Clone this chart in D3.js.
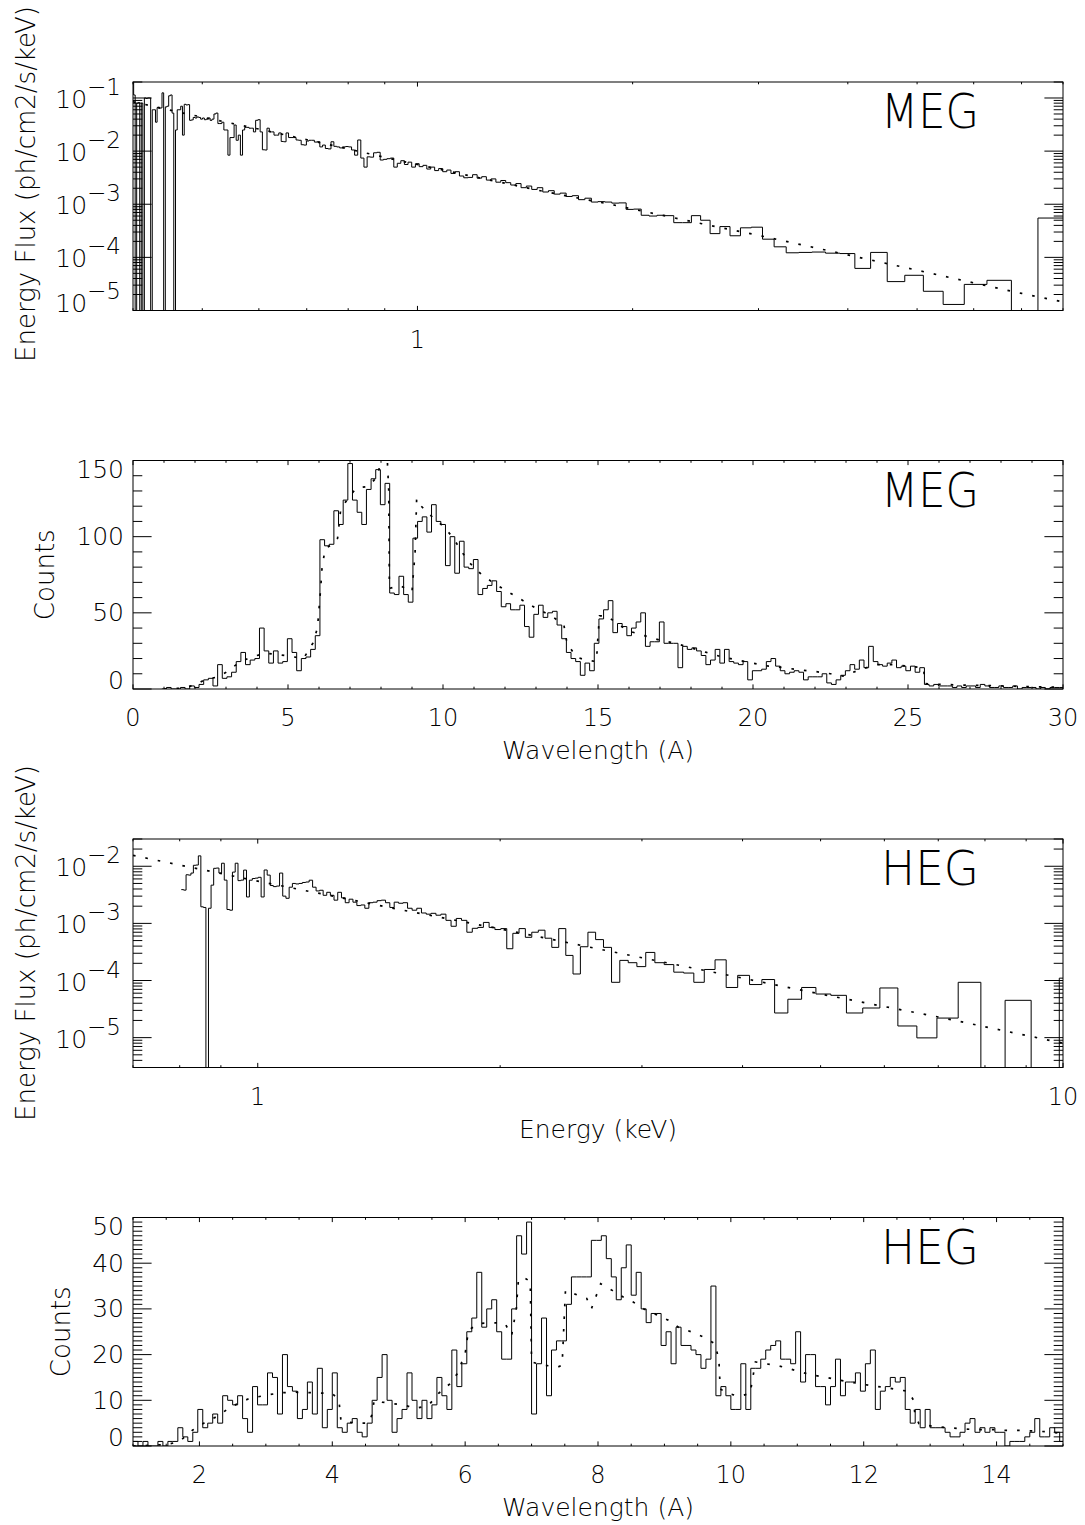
<!DOCTYPE html>
<html><head><meta charset="utf-8">
<script src="https://cdn.jsdelivr.net/npm/d3@7"></script>
<style>
body{margin:0;background:#fff}
svg text{font-family:'DejaVu Sans';font-weight:200;fill:#000}
</style>
</head><body>
<svg id="c" width="1085" height="1525"></svg>
<script>
// ---------------- DATA ----------------
const HC = 12.398; // keV*Angstrom (energy <-> wavelength for bin edges)

// Panel 1: MEG energy flux (1e-3 ph/cm2/s/keV), bins of constant wavelength width, ascending wavelength
const megFluxLam0 = 1.53, megFluxDLam = 0.15;
const megFlux = [
0.55,0,0.037,0.031,0.013,0.023,0.046,0.035,0.124,0.062,
0.118,0.12,0.126,0.124,0.122,0.158,0.22,0.37,0.36,0.255,
0.38,0.28,0.50,0.61,0.45,0.45,0.61,0.62,0.60,0.62,
0.81,0.80,1.06,1.05,1.10,
1.12,1.10,1.30,1.22,1.45,1.40,1.62,1.55,1.80,1.70,
2.05,1.90,2.20,2.05,2.45,2.30,2.55,2.80,2.60,3.00,
2.85,3.30,3.10,3.60,3.20,3.15,3.40,4.10,3.80,4.40,
4.10,4.70,4.30,5.00,4.60,5.40,5.10,5.80,5.00,6.20,
5.60,6.60,5.90,
5.0,7.4,7.2,7.0,6.8,9.5,9.3,7.7,7.8,5.0,
7.4,16.2,8.4,10.5,12.0,12.2,12.0,11.5,12.0,12.3,
15.0,11.0,11.2,13.0,12.0,15.0,14.8,16.0,16.0,15.5,
13.0,13.2,16.0,16.2,18.0,18.0,18.0,22.0,15.0,15.2,
22.0,20.0,20.0,23.0,23.0,27.0,10.5,10.6,23.0,39.0,
38.0,23.0,27.0,27.0,28.0,28.0,25.0,8.4,20.0,16.0,
31.0,18.0,18.0,8.4,25.0,25.0,35.0,33.0,33.0,52.0,
50.0,40.0,38.0,42.0,40.0,39.0,42.0,40.0,43.0,44.0,
42.0,43.0,38.7,38.0,75.0,74.0,76.0,20.0,70.0,60.0,
60.0,25.0,0,52.0,114.0,110.0,70.0,68.0,0,125.0,
65.0,64.0,66.0,35.0,60.0,60.0,0,100.0,100.0,98.0,
100.0,0,80.0,0,82.0,80.0,0,114.0,200.0];
// model [energy keV, flux ph/cm2/s/keV]
const megFluxModel = [[0.4,8.5e-2],[0.47,5.2e-2],[0.6,2.6e-2],[0.8,1.1e-2],[0.93,6.9e-3],[1.2,3.3e-3],[1.5,1.75e-3],[1.86,1.0e-3],[2.5,4.3e-4],[3.0,2.6e-4],[3.5,1.65e-4],[4.25,9.3e-5],[5.2,5.1e-5],[6.2,3.0e-5],[7.0,2.1e-5],[8.0,1.45e-5]];

// Panel 2: MEG counts per wavelength bin
const megCntLam0 = 0.93, megCntDLam = 0.15;
const megCounts = [
0,1,0,0,1,0,2,1,3,6,
7,2,16,7,8,11,18,24,16,19,
20,40,25,17,25,17,18,33,24,12,
20,21,26,35,98,94,95,117,108,124,
148,124,116,108,131,138,144,121,135,63,
62,74,62,57,99,110,113,103,121,110,
108,81,100,76,97,80,79,85,62,66,
68,71,64,54,56,52,52,55,41,34,
49,55,47,50,51,42,33,24,20,18,
9,17,12,30,46,52,58,37,43,41,
35,40,44,50,28,31,31,44,30,30,
30,14,28,26,27,25,22,16,19,26,
17,26,18,17,16,18,6,12,12,13,
18,20,15,12,10,11,12,11,6,8,
8,8,10,4,3,6,9,12,16,13,
19,14,28,18,16,15,17,19,14,15,
12,15,11,14,3,2,3,2,2,2,
1,2,1,2,2,1,3,2,1,1,
2,1,1,2,0,1,1,1,0,1,
0,1,1,1];
// model [wavelength A, counts]
const megCntModel = [[1.0,0],[1.5,0.5],[2.0,2.5],[2.3,6],[2.75,8],[3.0,11],[3.4,17],[3.8,21],[4.3,23.5],[4.9,22],[5.2,21],[5.5,20],[5.8,30],[5.95,40],[6.05,65],[6.1,80],[6.2,92],[6.5,96],[6.6,99],[6.7,118],[6.9,124],[7.2,132],[7.6,133],[7.9,140],[8.0,152],[8.2,152],[8.25,130],[8.27,66],[8.6,68],[9.0,64],[9.1,90],[9.15,125],[9.3,120],[9.6,114],[10.0,107],[10.3,100],[10.8,84],[11.2,76],[11.6,70],[12.0,65],[12.5,59],[13.0,53],[13.5,48],[13.9,42],[14.0,30],[14.3,21],[14.6,19],[14.95,18],[15.0,35],[15.05,48],[15.3,48],[15.6,43],[16.0,38],[16.5,35],[17.0,32],[17.5,30],[18.0,27],[18.5,24],[19.0,21],[19.5,19],[20.0,17],[20.5,15],[21.0,14],[21.5,12.5],[22.0,11.5],[22.5,10],[22.9,8.5],[23.1,10],[23.5,13],[24.0,16],[24.5,16],[25.0,15],[25.5,14],[25.55,3.5],[26,3],[27,2.5],[28,2],[29,1.5],[30,1.2]];

// Panel 3: HEG energy flux (1e-3 ph/cm2/s/keV), ascending wavelength bins
const hegFluxLam0 = 1.148, hegFluxDLam = 0.105;
const hegFlux = [
0.11,0,0.045,0,0.093,0.022,0.0099,0.016,0.074,0.033,
0.027,0.055,0.058,0.0755,0.047,0.027,0.104,0.085,0.123,0.0755,
0.23,0.156,0.093,0.135,0.14,0.19,0.205,0.31,0.175,0.205,
0.225,0.093,0.38,0.52,0.70,0.39,0.13,0.275,0.81,0.38,
0.55,0.76,0.70,0.57,0.81,0.67,0.36,0.81,0.78,0.85,
1.04,0.85,0.82,0.70,1.13,1.22,0.89,1.13,1.45,1.39,
1.5,1.45,1.52,1.84,1.7,1.84,2.3,2.25,2.35,1.9,
2.3,2.55,2.5,2.35,2.3,1.84,2.1,2.05,2.35,2.65,
2.3,2.8,3.5,2.55,3.1,3.5,3.1,3.8,3.7,4.3,
5.7,5.3,5.2,5.0,4.9,5.0,4.3,2.75,3.0,7.6,
4.5,4.4,4.6,7.0,8.6,2.9,6.4,6.2,6.1,5.7,
2.9,8.57,5.72,5.6,11.3,7.9,1.7,1.75,5.72,11.3,
7.6,9.3,9.2,4.67,1.84,0,1.9,1.95,15.2,10.5,
10.4,7.6,7.0,7.1,3.82,3.9];
const hegFluxModel = [[0.7,1.55e-2],[0.8,1.05e-2],[1.0,5.5e-3],[1.5,1.75e-3],[2.0,8.0e-4],[3.0,2.5e-4],[4.0,1.1e-4],[5.0,5.8e-5],[6.0,3.5e-5],[7.0,2.3e-5],[8.0,1.55e-5],[10.0,8.0e-6]];

// Panel 4: HEG counts per wavelength bin
const hegCntLam0 = 1.0, hegCntDLam = 0.075;
const hegCounts = [
1,0,1,0,0,1,0,1,1,4,
2,1,3,8,4,5,7,5,11,10,
9,11,6,3,13,9,9,16,15,7,
20,13,12,6,8,14,7,17,4,8,
16,4,3,5,6,3,2,5,10,15,
20,10,3,6,8,16,10,6,10,6,
9,15,11,8,21,13,18,25,28,38,
26,30,32,25,19,19,30,46,42,49,
7,18,28,11,21,
23,23,31,37,37,37,37,45,45,46,
41,37,32,39,44,33,38,30,27,29,
29,22,25,18,26,22,22,21,20,17,
19,35,11,13,11,8,8,18,8,17,
17,19,21,22,23,19,19,18,25,14,
20,20,13,13,9,13,19,11,14,14,
16,12,18,21,8,12,13,15,14,15,
8,5,8,4,8,4,4,4,3,2,
2,3,5,6,3,4,3,4,3,3,
0,1,1,1,2,3,6,2,2,4,
3,1];
const hegCntModel = [[1.0,0],[1.5,0.3],[1.7,1],[1.9,3.5],[2.1,5.3],[2.3,6.7],[2.45,8.4],[2.75,10.4],[3.0,11.1],[3.2,11.6],[3.4,11.8],[3.6,11.7],[3.8,11.6],[4.0,11.5],[4.1,10],[4.13,5.6],[4.2,5.3],[4.4,5],[4.55,5],[4.6,7],[4.63,10],[4.75,9.6],[4.9,9.3],[5.1,8.9],[5.25,8.2],[5.45,8.9],[5.6,11.5],[5.77,13.6],[5.88,15.8],[6.0,20.2],[6.05,25.3],[6.2,26.8],[6.4,27],[6.6,26.8],[6.7,24.2],[6.77,30],[6.8,36],[6.87,37],[6.98,36],[7.0,18.4],[7.17,17.7],[7.4,17.3],[7.46,17.7],[7.49,27.5],[7.51,34],[7.7,33],[7.83,32.3],[7.9,30],[8.04,35.5],[8.22,34],[8.38,32.6],[8.53,31.5],[8.69,30],[8.9,28.6],[9.06,27.5],[9.21,26],[9.4,25],[9.58,23.9],[9.76,22.4],[9.82,18.8],[9.84,12.5],[9.95,11.5],[10.13,10.9],[10.29,11.5],[10.34,15.8],[10.37,18.4],[10.52,18],[10.68,17.7],[10.86,17],[11.05,16.2],[11.23,15.5],[11.41,15.1],[11.6,14.5],[11.8,14],[11.99,13.5],[12.15,13.1],[12.33,12.8],[12.51,12.3],[12.67,12],[12.75,10],[12.77,7],[12.83,4.9],[13.04,4.3],[13.25,4],[13.46,3.8],[13.66,3.6],[13.93,3.6],[14.14,3.4],[14.35,3.4],[14.55,3.3],[14.76,3.1],[15.0,2.7]];

// Axis domains and tick labels
const p1XDomain = [0.4, 8], p1YDomain = [1e-5, 0.2];
const p1XLabels = [1], p1YExp = [-1,-2,-3,-4,-5];
const p2XDomain = [0, 30], p2YDomain = [0, 150];
const p2XLabels = [0,5,10,15,20,25,30], p2YLabels = [0,50,100,150];
const p3XDomain = [0.7, 10], p3YDomain = [3e-6, 3e-2];
const p3XLabels = [1,10], p3YExp = [-2,-3,-4,-5];
const p4XDomain = [1, 15], p4YDomain = [0, 50];
const p4XLabels = [2,4,6,8,10,12,14], p4YLabels = [0,10,20,30,40,50];
const panelNames = ["MEG","MEG","HEG","HEG"];
const yTitles = ["Energy Flux (ph/cm2/s/keV)","Counts","Energy Flux (ph/cm2/s/keV)","Counts"];
const xTitles = [null,"Wavelength (A)","Energy (keV)","Wavelength (A)"];

// ---------------- DRAWING ----------------
const svg = d3.select('#c');
const L = 133, R = 1063, PH = 228.5;
const tops = [82, 460.5, 839, 1217.5];
const MAJ_Y = 18.6, MIN_Y = 9.3, MAJ_X = 4.6, MIN_X = 2.3;
const defs = svg.append('defs');

function lamEdges(l0, dl, n){ return d3.range(n+1).map(i => l0 + dl*i); }

function logTicks(lo, hi){
  const maj=[], min=[];
  for (let d=Math.floor(Math.log10(lo))-1; d<=Math.ceil(Math.log10(hi)); d++){
    for (let m=1; m<10; m++){
      const v = m*Math.pow(10,d);
      if (v < lo*0.9999 || v > hi*1.0001) continue;
      (m===1?maj:min).push(v);
    }
  }
  return {maj, min};
}

function panel(i){
  const top = tops[i], bot = top+PH;
  const g = svg.append('g');
  defs.append('clipPath').attr('id','clip'+i).append('rect')
    .attr('x',L).attr('y',top).attr('width',R-L).attr('height',PH);
  const plot = g.append('g').attr('clip-path',`url(#clip${i})`);
  return {g, plot, top, bot};
}

function hist(plot, x, y, pts, floor){
  const line = d3.line().x(d=>x(d[0])).y(d=>y(d[1] > 0 ? d[1] : floor)).curve(d3.curveStepAfter);
  plot.append('path').attr('d', line(pts)).attr('fill','none')
    .attr('stroke','#000').attr('stroke-width',1);
}
function model(plot, x, y, pts){
  const line = d3.line().x(d=>x(d[0])).y(d=>y(d[1]));
  plot.append('path').attr('d', line(pts)).attr('fill','none')
    .attr('stroke','#000').attr('stroke-width',1.7).attr('stroke-dasharray','2.6,10');
}
function frame(P){
  P.g.append('rect').attr('x',L).attr('y',P.top).attr('width',R-L).attr('height',PH)
    .attr('fill','none').attr('stroke','#000').attr('stroke-width',1);
}
function yTicks(P, y, vals, len){
  vals.forEach(v=>{
    const yy = y(v);
    P.g.append('line').attr('x1',L).attr('x2',L+len).attr('y1',yy).attr('y2',yy).attr('stroke','#000');
    P.g.append('line').attr('x1',R).attr('x2',R-len).attr('y1',yy).attr('y2',yy).attr('stroke','#000');
  });
}
function xTicks(P, x, vals, len){
  vals.forEach(v=>{
    const xx = x(v);
    P.g.append('line').attr('x1',xx).attr('x2',xx).attr('y1',P.bot).attr('y2',P.bot-len).attr('stroke','#000');
    P.g.append('line').attr('x1',xx).attr('x2',xx).attr('y1',P.top).attr('y2',P.top+len).attr('stroke','#000');
  });
}
function xLabels(P, x, vals){
  vals.forEach(v=>{
    P.g.append('text').attr('x',x(v)).attr('y',P.bot+37).attr('text-anchor','middle')
      .attr('font-size',24).text(v);
  });
}
function yLinLabels(P, y, vals){
  vals.forEach(v=>{
    const c = Math.max(P.top+8.5, Math.min(P.bot-8.5, y(v)));
    P.g.append('text').attr('x',L-9).attr('y',c+8.5).attr('text-anchor','end')
      .attr('font-size',25).text(v);
  });
}
function yExpLabels(P, y, exps){
  exps.forEach(e=>{
    const b = Math.min(P.bot+1, y(Math.pow(10,e))+10);
    const t = P.g.append('text').attr('x',L-12).attr('y',b).attr('text-anchor','end').attr('font-size',25);
    t.append('tspan').text('10');
    t.append('tspan').attr('dy',-13).attr('font-size',23).text('\u2212'+Math.abs(e));
  });
}
function titles(P, i, yx){
  P.g.append('text').attr('transform',`translate(${yx},${i===0?184:(i===2?943:(P.top+P.bot)/2)}) rotate(-90)`)
    .attr('text-anchor','middle').attr('font-size', 26).text(yTitles[i]);
  if (xTitles[i]) P.g.append('text').attr('x',(L+R)/2).attr('y',P.bot+70).attr('text-anchor','middle')
    .attr('font-size',25).text(xTitles[i]);
  P.g.append('text').attr('x',881).attr('y',P.top+46).attr('font-size',48)
    .attr('textLength',98).attr('lengthAdjust','spacingAndGlyphs').text(panelNames[i]);
}

// ---- Panel 1: MEG flux vs energy (log-log)
{
  const P = panel(0);
  const x = d3.scaleLog().domain(p1XDomain).range([L,R]);
  const y = d3.scaleLog().domain(p1YDomain).range([P.bot,P.top]);
  const ed = lamEdges(megFluxLam0, megFluxDLam, megFlux.length);
  const pts = megFlux.map((v,i)=>[HC/ed[i], v*1e-3]);
  pts.push([HC/ed[megFlux.length], megFlux[megFlux.length-1]*1e-3]);
  hist(P.plot, x, y, pts, 1e-9);
  model(P.plot, x, y, megFluxModel);
  frame(P);
  const yt = logTicks(p1YDomain[0], p1YDomain[1]);
  yTicks(P, y, yt.maj, MAJ_Y); yTicks(P, y, yt.min, MIN_Y);
  const xt = logTicks(p1XDomain[0], p1XDomain[1]);
  xTicks(P, x, xt.maj, MAJ_X); xTicks(P, x, xt.min, MIN_X);
  xLabels(P, x, p1XLabels);
  yExpLabels(P, y, p1YExp);
  titles(P, 0, 35);
}
// ---- Panel 2: MEG counts vs wavelength
{
  const P = panel(1);
  const x = d3.scaleLinear().domain(p2XDomain).range([L,R]);
  const y = d3.scaleLinear().domain(p2YDomain).range([P.bot,P.top]);
  const ed = lamEdges(megCntLam0, megCntDLam, megCounts.length);
  const pts = megCounts.map((v,i)=>[ed[i], v]);
  pts.push([ed[megCounts.length], megCounts[megCounts.length-1]]);
  hist(P.plot, x, y, pts, 0);
  model(P.plot, x, y, megCntModel);
  frame(P);
  yTicks(P, y, d3.range(0,151,50), MAJ_Y);
  yTicks(P, y, d3.range(0,151,10).filter(v=>v%50), MIN_Y);
  xTicks(P, x, d3.range(0,31,5), MAJ_X);
  xTicks(P, x, d3.range(0,31,1).filter(v=>v%5), MIN_X);
  xLabels(P, x, p2XLabels);
  yLinLabels(P, y, p2YLabels);
  titles(P, 1, 54);
}
// ---- Panel 3: HEG flux vs energy (log-log)
{
  const P = panel(2);
  const x = d3.scaleLog().domain(p3XDomain).range([L,R]);
  const y = d3.scaleLog().domain(p3YDomain).range([P.bot,P.top]);
  const ed = lamEdges(hegFluxLam0, hegFluxDLam, hegFlux.length);
  const pts = hegFlux.map((v,i)=>[HC/ed[i], v*1e-3]);
  pts.push([HC/ed[hegFlux.length], hegFlux[hegFlux.length-1]*1e-3]);
  hist(P.plot, x, y, pts, 1e-10);
  model(P.plot, x, y, hegFluxModel);
  frame(P);
  const yt = logTicks(p3YDomain[0], p3YDomain[1]);
  yTicks(P, y, yt.maj, MAJ_Y); yTicks(P, y, yt.min, MIN_Y);
  const xt = logTicks(p3XDomain[0], p3XDomain[1]);
  xTicks(P, x, xt.maj, MAJ_X); xTicks(P, x, xt.min, MIN_X);
  xLabels(P, x, p3XLabels);
  yExpLabels(P, y, p3YExp);
  titles(P, 2, 35);
}
// ---- Panel 4: HEG counts vs wavelength
{
  const P = panel(3);
  const x = d3.scaleLinear().domain(p4XDomain).range([L,R]);
  const y = d3.scaleLinear().domain(p4YDomain).range([P.bot,P.top]);
  const ed = lamEdges(hegCntLam0, hegCntDLam, hegCounts.length);
  const pts = hegCounts.map((v,i)=>[ed[i], v]);
  pts.push([ed[hegCounts.length], hegCounts[hegCounts.length-1]]);
  hist(P.plot, x, y, pts, 0);
  model(P.plot, x, y, hegCntModel);
  frame(P);
  yTicks(P, y, d3.range(0,51,10), MAJ_Y);
  yTicks(P, y, d3.range(0,51,1).filter(v=>v%10), MIN_Y);
  xTicks(P, x, d3.range(2,15,2), MAJ_X);
  xTicks(P, x, d3.range(1,15.01,0.5).filter(v=>v%2), MIN_X);
  xLabels(P, x, p4XLabels);
  yLinLabels(P, y, p4YLabels);
  titles(P, 3, 70);
}
</script>
</body></html>
